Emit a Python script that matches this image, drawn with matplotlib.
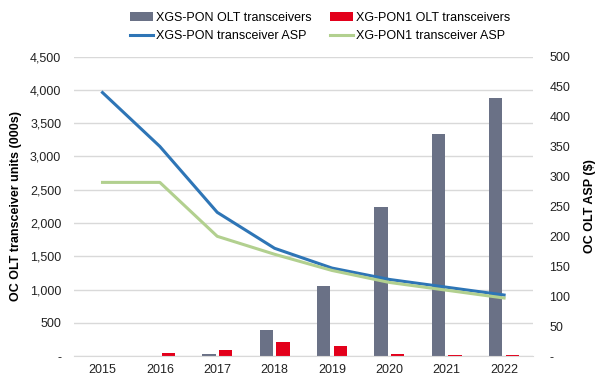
import numpy as np
import matplotlib.pyplot as plt
from matplotlib.ticker import FuncFormatter

plt.rcParams['font.family'] = ['Liberation Sans', 'DejaVu Sans']

# data
years = ['2015', '2016', '2017', '2018', '2019', '2020', '2021', '2022']
xgs_units = [0, 0, 30, 390, 1055, 2245, 3335, 3885]      # 000s
xg_units = [0, 50, 85, 210, 150, 30, 10, 10]             # 000s
xgs_asp = [440, 350, 240, 180, 147, 128, 115, 102]       # $
xg_asp = [290, 290, 200, 170, 143, 123, 110, 97]         # $

x = np.arange(len(years))

fig = plt.figure(figsize=(6, 3.85), dpi=100)
ax = fig.add_axes([0.123, 0.075, 0.765, 0.778])
ax2 = ax.twinx()

w = 0.23
ax.bar(x - 0.145, xgs_units, w, color='#6a7186', label='XGS-PON OLT transceivers', zorder=2)
ax.bar(x + 0.145, xg_units, w, color='#e3001b', label='XG-PON1 OLT transceivers', zorder=2)

ax2.plot(x, xgs_asp, color='#2e75b6', linewidth=2.2, label='XGS-PON transceiver ASP')
ax2.plot(x, xg_asp, color='#b2d08f', linewidth=2.2, label='XG-PON1 transceiver ASP')

ax.set_xlim(-0.5, len(years) - 0.5)
ax.set_ylim(0, 4500)
ax.set_yticks(np.arange(0, 4501, 500))
ax.yaxis.set_major_formatter(FuncFormatter(lambda v, p: '-' if v == 0 else f'{int(v):,}'))
ax2.set_ylim(0, 500)
ax2.set_yticks(np.arange(0, 501, 50))
ax2.yaxis.set_major_formatter(FuncFormatter(lambda v, p: '-' if v == 0 else f'{int(v)}'))

ax.set_xticks(x)
ax.set_xticklabels(years)

ax.grid(axis='y', color='#d9d9d9', linewidth=1, zorder=0)
ax.set_axisbelow(True)
for a in (ax, ax2):
    for s in ['top', 'left', 'right', 'bottom']:
        a.spines[s].set_visible(False)
    a.tick_params(length=0, labelsize=9, colors='#222222')
ax.spines['bottom'].set_visible(True)
ax.spines['bottom'].set_color('#d9d9d9')
ax.tick_params(axis='y', pad=9)
ax.tick_params(axis='x', pad=6)
ax2.tick_params(axis='y', pad=12)

ax.set_ylabel('OC OLT transceiver units (000s)', fontsize=9, fontweight='bold', labelpad=6)
ax2.set_ylabel('OC OLT ASP ($)', fontsize=9, fontweight='bold', labelpad=10)

h1, l1 = ax.get_legend_handles_labels()
h2, l2 = ax2.get_legend_handles_labels()
fig.legend([h1[0], h2[0], h1[1], h2[1]], [l1[0], l2[0], l1[1], l2[1]],
           ncol=2, loc='upper left', bbox_to_anchor=(130 / 600, 0.969), frameon=False,
           borderpad=0, borderaxespad=0,
           fontsize=9, handlelength=1.85, handletextpad=0.2, columnspacing=1.5,
           labelspacing=0.5)

fig.savefig('out.png', dpi=100)
